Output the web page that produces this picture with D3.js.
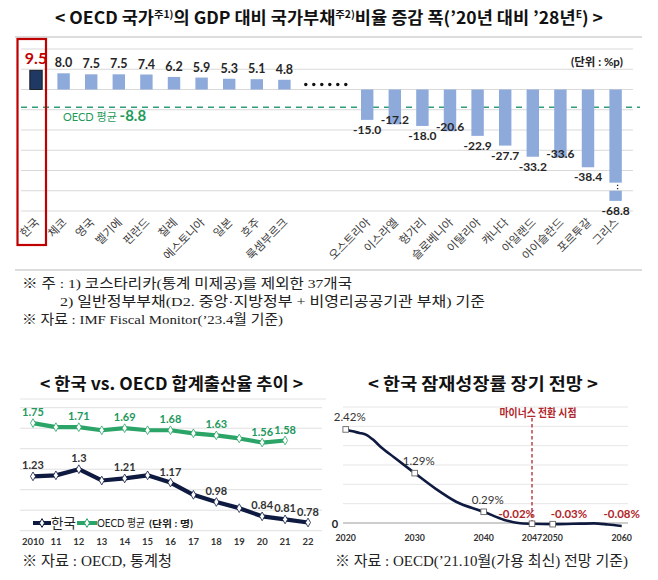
<!DOCTYPE html>
<html><head><meta charset="utf-8">
<script src="https://cdn.jsdelivr.net/npm/d3@7"></script>
<style>body{margin:0;background:#fff}svg{display:block}</style>
</head><body>
<svg id="c" width="658" height="580"></svg>
<script>
// ---------- data: chart 1 (debt ratio change) ----------
const debtCountries = ["한국","체코","영국","벨기에","핀란드","칠레","에스토니아","일본","호주","룩셈부르크","","","오스트리아","이스라엘","헝가리","슬로베니아","이탈리아","캐나다","아일랜드","아이슬란드","포르투갈","그리스"];
const debtValues = [9.5,8.0,7.5,7.5,7.4,6.2,5.9,5.3,5.1,4.8,null,null,-15.0,-17.2,-18.0,-20.6,-22.9,-27.7,-33.2,-33.6,-38.4,-68.8];
const debtAverage = -8.8;
const debtTicks = [-60,-50,-40,-30,-20,-10,0,10,20];
const debtBreak = [-46,-50,-55]; // truncated bar: top part end, lower part start, lower part end

// ---------- data: chart 2 (total fertility rate) ----------
const tfrYears = [2010,2011,2012,2013,2014,2015,2016,2017,2018,2019,2020,2021,2022];
const tfrYearLabels = ["2010","11","12","13","14","15","16","17","18","19","20","21","22"];
const tfrKorea = [1.23,1.24,1.30,1.19,1.21,1.24,1.17,1.05,0.98,0.92,0.84,0.81,0.78];
const tfrOECD = [1.75,1.71,1.71,1.68,1.70,1.68,1.68,1.65,1.63,1.60,1.56,1.58,null];
const tfrKoreaLabels = {2010:"1.23",2012:"1.3",2014:"1.21",2016:"1.17",2018:"0.98",2020:"0.84",2021:"0.81",2022:"0.78"};
const tfrOECDLabels = {2010:"1.75",2012:"1.71",2014:"1.69",2016:"1.68",2018:"1.63",2020:"1.56",2021:"1.58"};
const tfrTicks = [0.7,0.9,1.1,1.3,1.5,1.7,1.9];

// ---------- data: chart 3 (potential growth) ----------
const growthYears = [2020,2021,2022,2023,2024,2025,2027,2030,2033,2036,2040,2043,2045,2047,2050,2053,2056,2058,2060];
const growthValues = [2.42,2.37,2.33,2.28,2.15,1.98,1.70,1.29,0.89,0.55,0.29,0.08,0.00,-0.02,-0.03,-0.02,-0.01,-0.04,-0.08];
const growthMarkers = [2020,2030,2040,2047,2050];
const growthLabelYears = [2020,2030,2040,2047,2050,2060];
const growthLabelValues = ["2.42%","1.29%","0.29%","-0.02%","-0.03%","-0.08%"];
const growthTickYears = [2020,2030,2040,2047,2050,2060];
const growthGrid = [0,0.5,1,1.5,2,2.5,3];
const turnYear = 2047;

const svg = d3.select("#c");
const KR = "'Noto Sans CJK KR', sans-serif";
const NUM = "Lato, 'Noto Sans CJK KR', sans-serif";
const SERIF = "'Liberation Serif', 'Noto Sans CJK KR', serif";

// ================= chart 1 =================
const t1 = svg.append("text").attr("x",55).attr("y",24).attr("textLength",548).attr("lengthAdjust","spacingAndGlyphs")
  .attr("font-family",KR).attr("font-weight",700).attr("font-size",17).attr("fill","#111");
t1.append("tspan").text("< OECD 국가");
t1.append("tspan").attr("font-size",10).attr("dy",-6).text("주1)");
t1.append("tspan").attr("dy",6).text("의 GDP 대비 국가부채");
t1.append("tspan").attr("font-size",10).attr("dy",-6).text("주2)");
t1.append("tspan").attr("dy",6).text("비율 증감 폭(’20년 대비 ’28년");
t1.append("tspan").attr("font-size",10).attr("dy",-6).text("E");
t1.append("tspan").attr("dy",6).text(") >");

svg.append("line").attr("x1",15).attr("x2",642).attr("y1",37).attr("y2",37).attr("stroke","#d0d0d0").attr("stroke-width",1.5);
svg.append("line").attr("x1",15).attr("x2",642).attr("y1",270).attr("y2",270).attr("stroke","#d0d0d0").attr("stroke-width",1.5);

const xb = d3.scaleBand().domain(d3.range(debtCountries.length)).range([22.2,629.4]).paddingInner(0.55).paddingOuter(0.275);
const yb = d3.scaleLinear().domain([-60,20]).range([211,49]);
const cx = i => xb(i) + xb.bandwidth()/2;

svg.append("g").selectAll("line").data(debtTicks).join("line")
  .attr("x1",21).attr("x2",633).attr("y1",d=>yb(d)).attr("y2",d=>yb(d))
  .attr("stroke","#d9d9d9").attr("stroke-width",1);

svg.append("line").attr("x1",21).attr("x2",640).attr("y1",yb(debtAverage)).attr("y2",yb(debtAverage))
  .attr("stroke","#2f9e79").attr("stroke-width",1.6).attr("stroke-dasharray","6,5");

const bars = debtValues.map((v,i)=>({v,i,name:debtCountries[i]})).filter(d=>d.v!==null);
const gB = svg.append("g");
let prevNegLabel = null;
bars.forEach(d=>{
  const col = d.i===0 ? "#1f3864" : "#8eaadb";
  if (d.v < yb.domain()[0]) {
    gB.append("rect").attr("x",xb(d.i)).attr("width",xb.bandwidth()).attr("y",yb(0)).attr("height",yb(debtBreak[0])-yb(0)).attr("fill",col);
    gB.append("rect").attr("x",xb(d.i)).attr("width",xb.bandwidth()).attr("y",yb(debtBreak[1])).attr("height",yb(debtBreak[2])-yb(debtBreak[1])).attr("fill",col);
    gB.append("line").attr("x1",cx(d.i)+2).attr("x2",cx(d.i)+2).attr("y1",yb(debtBreak[0])+2).attr("y2",yb(debtBreak[1])-1)
      .attr("stroke","#222").attr("stroke-width",1.3).attr("stroke-dasharray","1.3,2");
  } else {
    gB.append("rect").attr("x",xb(d.i)).attr("width",xb.bandwidth())
      .attr("y",yb(Math.max(0,d.v))).attr("height",Math.abs(yb(d.v)-yb(0))).attr("fill",col)
      .attr("stroke",d.i===0?"#0a0a0a":"none").attr("stroke-width",0.8);
  }
  const end = d.v < yb.domain()[0] ? yb(debtBreak[2]) : yb(d.v);
  if (d.v >= 0) {
    gB.append("text").attr("x",cx(d.i)).attr("y",end-6).attr("text-anchor","middle")
      .attr("font-family",NUM).attr("font-weight",700).attr("font-size",d.i===0?16:12.5)
      .attr("fill",d.i===0?"#c00000":"#262626").text(d.v.toFixed(1));
  } else {
    let base = end + 14;
    // avoid collision with the previous label: lift it over the bar end
    if (prevNegLabel !== null && Math.abs(prevNegLabel - base) < 9) base -= 14;
    prevNegLabel = base;
    gB.append("text").attr("x",cx(d.i)).attr("y",base).attr("text-anchor","middle")
      .attr("font-family",NUM).attr("font-weight",700).attr("font-size",12)
      .attr("fill","#262626").text(d.v.toFixed(1));
  }
  gB.append("text").attr("transform",`translate(${cx(d.i)+4},${223}) rotate(-45)`).attr("text-anchor","end")
    .attr("font-family",KR).attr("font-size",11.5).attr("fill","#404040").text(d.name);
});

// dots in the gap
const gapIdx = debtValues.map((v,i)=>v===null?i:-1).filter(i=>i>=0);
const gapMid = (cx(gapIdx[0])+cx(gapIdx[gapIdx.length-1]))/2;
svg.append("g").selectAll("circle").data(d3.range(6)).join("circle")
  .attr("cx",d=>gapMid-20+d*8).attr("cy",yb(2.5)).attr("r",1.7).attr("fill","#111");

// Korea highlight box
svg.append("rect").attr("x",cx(0)-18.5).attr("y",39).attr("width",28.5).attr("height",206)
  .attr("fill","none").attr("stroke","#c00000").attr("stroke-width",2.2);

svg.append("text").attr("x",623).attr("y",66).attr("text-anchor","end").attr("font-family",NUM).attr("font-weight",700)
  .attr("font-size",11.5).attr("fill","#222").text("(단위 : %p)");

const avgT = svg.append("text").attr("x",63).attr("y",121).attr("fill","#1e9a5a").attr("font-family",NUM);
avgT.append("tspan").attr("font-size",11).text("OECD 평균 ");
avgT.append("tspan").attr("font-size",15).attr("font-weight",700).text(debtAverage.toFixed(1));

// notes
const note = (x,y,w,s)=>svg.append("text").attr("x",x).attr("y",y).attr("textLength",w).attr("lengthAdjust","spacingAndGlyphs")
  .attr("font-family",SERIF).attr("font-size",13.5).attr("fill","#222").text(s);
note(22,288,330,"※ 주 : 1) 코스타리카(통계 미제공)를 제외한 37개국");
note(60,306,425,"2) 일반정부부채(D2. 중앙·지방정부 + 비영리공공기관 부채) 기준");
note(22,324,261,"※ 자료 : IMF Fiscal Monitor(’23.4월 기준)");

// ================= chart 2 =================
svg.append("text").attr("x",40).attr("y",390).attr("textLength",263).attr("lengthAdjust","spacingAndGlyphs")
  .attr("font-family",KR).attr("font-weight",700).attr("font-size",17).attr("fill","#111").text("< 한국 vs. OECD 합계출산율 추이 >");

const x2 = d3.scaleLinear().domain([2010,2022]).range([33,308]);
const y2 = d3.scaleLinear().domain([0.7,1.9]).range([530.7,407.7]);
svg.append("line").attr("x1",20).attr("x2",326).attr("y1",399).attr("y2",399).attr("stroke","#e3e3e3");
svg.append("g").selectAll("line").data(tfrTicks).join("line")
  .attr("x1",20).attr("x2",322).attr("y1",d=>y2(d)).attr("y2",d=>y2(d)).attr("stroke","#e0e0e0");

const KCOL = "#0f1a40", OCOL = "#2ba467";
const line2 = d3.line().defined(d=>d[1]!==null).x(d=>x2(d[0])).y(d=>y2(d[1]));
const kData = tfrYears.map((y,i)=>[y,tfrKorea[i]]);
const oData = tfrYears.map((y,i)=>[y,tfrOECD[i]]);
svg.append("path").attr("d",line2(oData)).attr("fill","none").attr("stroke",OCOL).attr("stroke-width",4.2).attr("stroke-linejoin","round");
svg.append("path").attr("d",line2(kData)).attr("fill","none").attr("stroke",KCOL).attr("stroke-width",4.2).attr("stroke-linejoin","round");
const diamond = d3.symbol().type(d3.symbolDiamond).size(22);
const drawMarks = (data,col)=>svg.append("g").selectAll("path").data(data.filter(d=>d[1]!==null)).join("path")
  .attr("d",diamond).attr("transform",d=>`translate(${x2(d[0])},${y2(d[1])})`).attr("fill","#fff").attr("stroke",col).attr("stroke-width",0.8);
drawMarks(oData,OCOL); drawMarks(kData,KCOL);

tfrYears.forEach((yr,i)=>{
  if (tfrOECDLabels[yr]) svg.append("text").attr("x",x2(yr)).attr("y",y2(tfrOECD[i])-7).attr("text-anchor","middle")
    .attr("font-family",NUM).attr("font-weight",700).attr("font-size",11).attr("fill","#23985c").text(tfrOECDLabels[yr]);
  if (tfrKoreaLabels[yr]) svg.append("text").attr("x",x2(yr)).attr("y",y2(tfrKorea[i])-7).attr("text-anchor","middle")
    .attr("font-family",NUM).attr("font-weight",700).attr("font-size",11).attr("fill","#333").text(tfrKoreaLabels[yr]);
});

svg.append("g").selectAll("text").data(tfrYears).join("text")
  .attr("x",d=>x2(d)).attr("y",545).attr("text-anchor","middle").attr("font-family",NUM).attr("font-weight",700)
  .attr("font-size",9.5).attr("fill","#333").text((d,i)=>tfrYearLabels[i]);

// legend
const lg = svg.append("g");
lg.append("line").attr("x1",33).attr("x2",51).attr("y1",523).attr("y2",523).attr("stroke",KCOL).attr("stroke-width",4);
lg.append("path").attr("d",diamond).attr("transform","translate(42,523)").attr("fill","#fff").attr("stroke",KCOL);
lg.append("text").attr("x",51).attr("y",528).attr("font-family",KR).attr("font-size",13.5).attr("fill","#222").text("한국");
lg.append("line").attr("x1",77).attr("x2",97).attr("y1",523).attr("y2",523).attr("stroke",OCOL).attr("stroke-width",4);
lg.append("path").attr("d",diamond).attr("transform","translate(87,523)").attr("fill","#fff").attr("stroke",OCOL);
lg.append("text").attr("x",97).attr("y",527).attr("textLength",48).attr("lengthAdjust","spacingAndGlyphs")
  .attr("font-family",NUM).attr("font-size",11).attr("fill","#222").text("OECD 평균");
lg.append("text").attr("x",149).attr("y",527).attr("textLength",44).attr("lengthAdjust","spacingAndGlyphs")
  .attr("font-family",NUM).attr("font-weight",700).attr("font-size",9.5).attr("fill","#222").text("(단위 : 명)");

svg.append("text").attr("x",22).attr("y",566).attr("textLength",150).attr("lengthAdjust","spacingAndGlyphs")
  .attr("font-family",SERIF).attr("font-size",14.5).attr("fill","#222").text("※ 자료 : OECD, 통계청");

// ================= chart 3 =================
svg.append("text").attr("x",368).attr("y",390).attr("textLength",230).attr("lengthAdjust","spacingAndGlyphs")
  .attr("font-family",KR).attr("font-weight",700).attr("font-size",17).attr("fill","#111").text("< 한국 잠재성장률 장기 전망 >");

const x3 = d3.scaleLinear().domain([2020,2060]).range([345.7,621.7]);
const y3 = d3.scaleLinear().domain([0,3]).range([523,407]);
svg.append("g").selectAll("line").data(growthGrid.filter(d=>d>0)).join("line")
  .attr("x1",343).attr("x2",628).attr("y1",d=>y3(d)).attr("y2",d=>y3(d)).attr("stroke","#e6e6e6");
svg.append("line").attr("x1",343).attr("x2",628).attr("y1",y3(0)).attr("y2",y3(0)).attr("stroke","#bdbdbd").attr("stroke-width",1.5);

svg.append("line").attr("x1",x3(turnYear)).attr("x2",x3(turnYear)).attr("y1",418).attr("y2",y3(0))
  .attr("stroke","#b0262a").attr("stroke-width",1.3).attr("stroke-dasharray","3.5,2.5");
svg.append("text").attr("x",x3(turnYear)+6).attr("y",417).attr("text-anchor","middle").attr("textLength",77).attr("lengthAdjust","spacingAndGlyphs")
  .attr("font-family",KR).attr("font-size",11).attr("font-weight",700).attr("fill","#b0262a").text("마이너스 전환 시점");

const line3 = d3.line().curve(d3.curveMonotoneX).x(d=>x3(d[0])).y(d=>y3(d[1]));
const gData = growthYears.map((y,i)=>[y,growthValues[i]]);
svg.append("path").attr("d",line3(gData)).attr("fill","none").attr("stroke","#0f1a40").attr("stroke-width",2.6);
const valAt = yr => growthValues[growthYears.indexOf(yr)];
svg.append("g").selectAll("rect").data(growthMarkers).join("rect")
  .attr("x",d=>x3(d)-2.8).attr("y",d=>y3(valAt(d))-2.8).attr("width",5.6).attr("height",5.6)
  .attr("fill","#fff").attr("stroke","#666").attr("stroke-width",0.9);

growthLabelYears.forEach((yr,i)=>{
  const v = valAt(yr);
  const neg = v < 0;
  const prev = growthLabelYears[i-1], next = growthLabelYears[i+1];
  let anchor = "middle", dx = 0;
  if (next !== undefined && x3(next)-x3(yr) < 30) { anchor = "end"; dx = 3; }
  else if (prev !== undefined && x3(yr)-x3(prev) < 30) { anchor = "start"; dx = -2; }
  svg.append("text").attr("x",x3(yr)+dx+(anchor==="middle"&&!neg?4:0)).attr("y",neg ? y3(0)-5 : y3(v)-8)
    .attr("text-anchor",anchor).attr("font-family",NUM).attr("font-size",11.5)
    .attr("font-weight",neg?700:400).attr("fill",neg?"#b0262a":"#333").text(growthLabelValues[i]);
});

svg.append("text").attr("x",335).attr("y",528).attr("text-anchor","middle").attr("font-family",NUM).attr("font-weight",700)
  .attr("font-size",11).attr("fill","#222").text("0");
svg.append("g").selectAll("text").data(growthTickYears).join("text")
  .attr("x",d=>x3(d)).attr("y",541).attr("text-anchor","middle").attr("font-family",NUM).attr("font-weight",700)
  .attr("font-size",8.8).attr("fill","#333").text(d=>d);

svg.append("text").attr("x",335).attr("y",566).attr("textLength",293).attr("lengthAdjust","spacingAndGlyphs")
  .attr("font-family",SERIF).attr("font-size",14.5).attr("fill","#222").text("※ 자료 : OECD(’21.10월(가용 최신) 전망 기준)");
</script>
</body></html>
